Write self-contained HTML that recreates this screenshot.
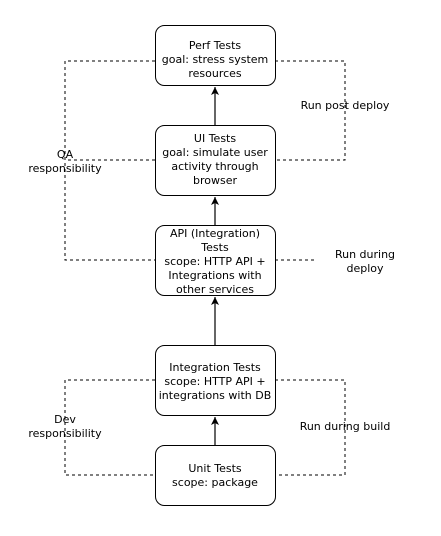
<!DOCTYPE html>
<html><head><style>
body{margin:0;background:#fff;}
svg text{font-family:"DejaVu Sans","Liberation Sans",sans-serif;font-size:11px;fill:#000;}
</style></head><body>
<svg width="441" height="531" xmlns="http://www.w3.org/2000/svg">
<defs><marker id="a" markerWidth="8" markerHeight="10" refX="8" refY="4" orient="auto" markerUnits="userSpaceOnUse"><path d="M0,0 L8,4 L0,8 L2,4 Z" fill="#000"/></marker></defs>
<g stroke="#000" stroke-dasharray="3,3" fill="none">
<path d="M155,61 H65 V260 H155"/>
<path d="M155,160 H65"/>
<path d="M275,61 H345 V160 H275"/>
<path d="M275,260 H315"/>
<path d="M155,380 H65 V475 H155"/>
<path d="M275,380 H345 V475 H275"/>
</g>
<g stroke="#000" fill="#fff">
<rect x="155.5" y="25.5" width="120" height="60" rx="9"/>
<rect x="155.5" y="125.5" width="120" height="70" rx="9"/>
<rect x="155.5" y="225.5" width="120" height="70" rx="9"/>
<rect x="155.5" y="345.5" width="120" height="70" rx="9"/>
<rect x="155.5" y="445.5" width="120" height="60" rx="9"/>
</g>
<g stroke="#000" stroke-width="1.2" fill="none">
<line x1="215" y1="125" x2="215" y2="87" marker-end="url(#a)"/>
<line x1="215" y1="225" x2="215" y2="197" marker-end="url(#a)"/>
<line x1="215" y1="345" x2="215" y2="297" marker-end="url(#a)"/>
<line x1="215" y1="445" x2="215" y2="417" marker-end="url(#a)"/>
</g>
<g text-anchor="middle">
<text x="215" y="49">Perf Tests</text>
<text x="215" y="63">goal: stress system</text>
<text x="215" y="77">resources</text>
<text x="215" y="142">UI Tests</text>
<text x="215" y="156">goal: simulate user</text>
<text x="215" y="170">activity through</text>
<text x="215" y="184">browser</text>
<text x="215" y="237">API (Integration)</text>
<text x="215" y="251">Tests</text>
<text x="215" y="265">scope: HTTP API +</text>
<text x="215" y="279">Integrations with</text>
<text x="215" y="293">other services</text>
<text x="215" y="371">Integration Tests</text>
<text x="215" y="385">scope: HTTP API +</text>
<text x="215" y="399">integrations with DB</text>
<text x="215" y="472">Unit Tests</text>
<text x="215" y="486">scope: package</text>
<text x="65" y="158">QA</text>
<text x="65" y="172">responsibility</text>
<text x="65" y="423">Dev</text>
<text x="65" y="437">responsibility</text>
<text x="345" y="109">Run post deploy</text>
<text x="365" y="258">Run during</text>
<text x="365" y="272">deploy</text>
<text x="345" y="430">Run during build</text>
</g>
</svg>
</body></html>
